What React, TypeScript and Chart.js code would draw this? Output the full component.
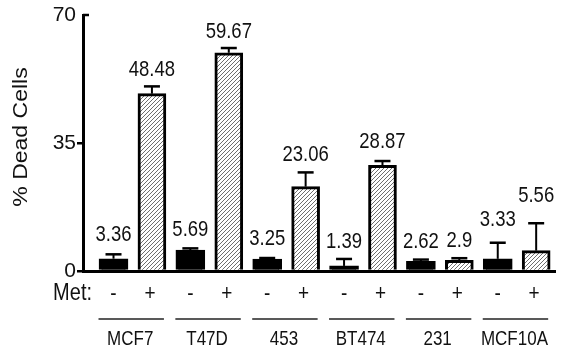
import React, { useEffect, useRef } from "react";
import { Chart, registerables } from "chart.js";

Chart.register(...registerables);

// ---- data ----
const cellLines = ["MCF7", "T47D", "453", "BT474", "231", "MCF10A"];
const metSigns = ["-", "+"];
const controlValues = [3.36, 5.69, 3.25, 1.39, 2.62, 3.33];
const metValues = [48.48, 59.67, 23.06, 28.87, 2.9, 5.56];
const controlErrors = [1.2, 0.5, 0.3, 1.9, 0.5, 4.4];
const metErrors = [2.0, 1.3, 3.9, 1.2, 0.6, 7.5];
const yTicks = [0, 35, 70];
const yTitle = "% Dead Cells";
const metTitle = "Met:";

// ---- layout (px gap between error-bar top and value label centre) ----
const controlLabelGap = [19, 18, 19, 17, 17, 23];
const metLabelGap = [16, 16, 17, 19, 17, 27];

const FONT = "'Liberation Sans', Arial, Helvetica, sans-serif";
const SY = 1.15; // vertical stretch of the reference's lettering

function makeHatch(): CanvasPattern | string {
  const s = 4;
  const c = document.createElement("canvas");
  c.width = s;
  c.height = s;
  const g = c.getContext("2d");
  if (!g) return "#ccc";
  g.fillStyle = "#ffffff";
  g.fillRect(0, 0, s, s);
  g.strokeStyle = "#6e6e6e";
  g.lineWidth = 1;
  g.beginPath();
  g.moveTo(0, s);
  g.lineTo(s, 0);
  g.moveTo(-1, 1);
  g.lineTo(1, -1);
  g.moveTo(s - 1, s + 1);
  g.lineTo(s + 1, s - 1);
  g.stroke();
  return g.createPattern(c, "repeat") || "#ccc";
}

function text(ctx: CanvasRenderingContext2D, t: string, x: number, y: number, size: number, align: CanvasTextAlign, baseline: CanvasTextBaseline) {
  ctx.save();
  ctx.translate(x, y);
  ctx.scale(1, SY);
  ctx.font = `${size}px ${FONT}`;
  ctx.textAlign = align;
  ctx.textBaseline = baseline;
  ctx.fillStyle = "#111";
  ctx.fillText(t, 0, 0);
  ctx.restore();
}

const annotate = {
  id: "annotate",
  afterDatasetsDraw(chart: any) {
    const ctx: CanvasRenderingContext2D = chart.ctx;
    const xs = chart.scales.x;
    const ys = chart.scales.y;
    const area = chart.chartArea;
    const series = [
      { vals: controlValues, errs: controlErrors, gaps: controlLabelGap, off: 0 },
      { vals: metValues, errs: metErrors, gaps: metLabelGap, off: 1 },
    ];
    series.forEach((s) => {
      s.vals.forEach((v, g) => {
        const cx = xs.getPixelForValue(2 * g + s.off);
        const yTop = ys.getPixelForValue(v);
        const yErr = ys.getPixelForValue(v + s.errs[g]);
        ctx.save();
        ctx.strokeStyle = "#000";
        ctx.lineWidth = 2;
        ctx.beginPath();
        ctx.moveTo(cx, yTop);
        ctx.lineTo(cx, yErr);
        ctx.stroke();
        ctx.lineWidth = 2.5;
        ctx.beginPath();
        ctx.moveTo(cx - 8, yErr);
        ctx.lineTo(cx + 8, yErr);
        ctx.stroke();
        ctx.restore();
        text(ctx, String(v), cx, yErr - s.gaps[g], 18.5, "center", "middle");
      });
    });
    const b = area.bottom;
    text(ctx, metTitle, 92, b + 29, 20, "right", "alphabetic");
    cellLines.forEach((name, g) => {
      const c0 = xs.getPixelForValue(2 * g);
      const c1 = xs.getPixelForValue(2 * g + 1);
      text(ctx, metSigns[0], c0, b + 29, 19, "center", "alphabetic");
      text(ctx, metSigns[1], c1 - 2, b + 29, 19, "center", "alphabetic");
      const x0 = c0 - 15;
      const x1 = c1 + 12;
      ctx.save();
      ctx.strokeStyle = "#222";
      ctx.lineWidth = 1.5;
      ctx.beginPath();
      ctx.moveTo(x0, b + 48);
      ctx.lineTo(x1, b + 48);
      ctx.stroke();
      ctx.restore();
      text(ctx, name, (x0 + x1) / 2 - 1, b + 74, 17, "center", "alphabetic");
    });
    ctx.save();
    ctx.translate(21, (area.top + area.bottom) / 2 - 6);
    ctx.rotate(-Math.PI / 2);
    ctx.scale(SY, 1);
    ctx.font = `20px ${FONT}`;
    ctx.textAlign = "center";
    ctx.textBaseline = "middle";
    ctx.fillStyle = "#111";
    ctx.fillText(yTitle, 0, 0);
    ctx.restore();
    const yT = ys.getPixelForValue(yTicks[yTicks.length - 1]);
    ctx.save();
    ctx.strokeStyle = "#000";
    ctx.lineWidth = 2.5;
    ctx.beginPath();
    ctx.moveTo(area.left, yT);
    ctx.lineTo(area.left + 6, yT);
    ctx.stroke();
    ctx.restore();
  },
};

export default function App() {
  const ref = useRef<HTMLCanvasElement | null>(null);

  useEffect(() => {
    if (!ref.current) return;
    const hatch = makeHatch();
    const chart = new Chart(ref.current, {
      type: "bar",
      data: {
        datasets: [
          {
            label: "Met -",
            data: controlValues.map((v, g) => ({ x: 2 * g, y: v })),
            backgroundColor: "#000",
            borderColor: "#000",
            borderWidth: 3,
            barThickness: 29,
            grouped: false,
          } as any,
          {
            label: "Met +",
            data: metValues.map((v, g) => ({ x: 2 * g + 1, y: v })),
            backgroundColor: hatch as any,
            borderColor: "#000",
            borderWidth: 3,
            barThickness: 28,
            grouped: false,
          } as any,
        ],
      },
      options: {
        animation: false,
        responsive: false,
        layout: { padding: { top: 15, right: 18, left: 0, bottom: 0 } },
        plugins: { legend: { display: false }, tooltip: { enabled: false } },
        scales: {
          x: {
            type: "linear",
            offset: false,
            bounds: "data",
            min: -0.794,
            max: 11.49,
            grid: { display: false, drawTicks: false, offset: false },
            ticks: { display: false },
            border: { display: true, color: "#000", width: 3 },
            afterFit: (s: any) => {
              s.height = 82;
            },
          },
          y: {
            min: 0,
            max: 70,
            afterBuildTicks: (s: any) => {
              s.ticks = yTicks.map((v) => ({ value: v }));
            },
            grid: {
              drawOnChartArea: false,
              drawTicks: true,
              tickLength: 6,
              lineWidth: 2.5,
              color: (c: any) => (c.tick && c.tick.value === 70 ? "rgba(0,0,0,0)" : "#000"),
            },
            border: { display: true, color: "#000", width: 3 },
            ticks: {
              padding: 1,
              color: "#111",
              font: { family: FONT, size: 21 },
            },
            afterFit: (s: any) => {
              s.width = 83;
            },
          },
        },
      },
      plugins: [annotate],
    } as any);
    return () => chart.destroy();
  }, []);

  return (
    <div style={{ position: "fixed", left: 0, top: 0, width: 573, height: 353, background: "#fff" }}>
      <canvas ref={ref} width={573} height={353} />
    </div>
  );
}
